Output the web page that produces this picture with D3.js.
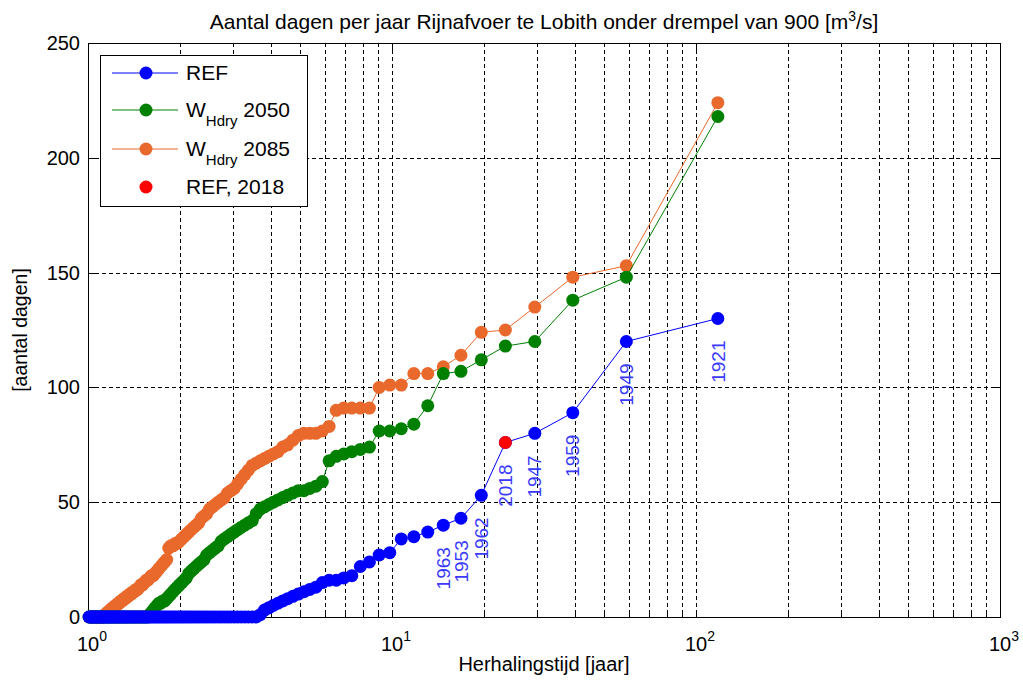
<!DOCTYPE html>
<html>
<head>
<meta charset="utf-8">
<script src="https://cdn.jsdelivr.net/npm/d3@7"></script>
<style>
  html, body { margin: 0; padding: 0; background: #fff; }
  svg { display: block; font-family: "Liberation Sans", Arial, Helvetica, sans-serif; }
</style>
</head>
<body>
<svg id="chart" width="1023" height="688"></svg>
<script>
// ---------------- data ----------------
// values sorted descending; return period T = (nYears + 1) / rank
const nYears = 117;
const refValues = [130,120,89,80,76,53,43,40,37,35,34,28,27,24,22,18,17,16,16,15,13,12,11,10,9,8,7,6,5,4,3,1]
  .concat(new Array(85).fill(0));
const w2050Values = [218,148,138,120,118,112,107,106,92,84,
  82,81,81,74,73,72,71,70,68,59,
  57,56,55,55,54,53,52,51,50,49,
  48,47,45,42,41,40,39,38,37,36,
  35,34,33,31,30,29,28,27,25,24,
  23,22,21,20,19,17,16,15,14,13,
  12,11,10,9,8,7,7,6,6,5,
  4,3,2,1].concat(new Array(43).fill(0));
const w2085Values = [224,153,148,135,125,124,114,109,106,106,
  101,101,100,91,91,91,91,90,83,81,
  80,80,80,79,77,75,74,72,71,70,
  69,68,67,66,64,62,60,58,56,55,
  54,52,51,50,49,48,47,45,44,43,
  41,40,39,38,37,36,35,34,33,32,
  32,31,31,30,25,24,23,22,21,20,
  19,18,18,17,16,16,15,14,14,13,
  12,12,11,11,10,10,9,9,8,8,
  7,7,6,6,5,5,4,4,3,3,
  2,2,1,1].concat(new Array(13).fill(0));
const ref2018Rank = [5];
const ref2018Value = [76];
const yearLabels = ["1921","1949","1959","1947","2018","1962","1953","1963"];

const titleText = "Aantal dagen per jaar Rijnafvoer te Lobith onder drempel van 900 [m";
const xLabel = "Herhalingstijd [jaar]";
const yLabel = "[aantal dagen]";
const yTicks = [0,50,100,150,200,250];
const xMajor = [1,10,100,1000];
const xExp = ["0","1","2","3"];

const colors = { ref: "#0000ff", w2050: "#008000", w2085: "#e9692c", red: "#ff0000", label: "#3a3aff" };

// ---------------- setup ----------------
const svg = d3.select("#chart");
const L = 88, R = 1000, T = 43, B = 617;
const x = d3.scaleLog().domain([1, 1000]).range([L, R]);
const y = d3.scaleLinear().domain([0, 250]).range([B, T]);
const rp = r => (nYears + 1) / r;
const toPts = vals => vals.map((v, i) => ({ t: rp(i + 1), v }));

// grid
const minor = [];
for (let e = 0; e < 3; e++) for (let k = 2; k <= 9; k++) minor.push(k * Math.pow(10, e));
const gridX = minor.concat([10, 100]);
const g = svg.append("g");
g.selectAll("line.gx").data(gridX).enter().append("line")
  .attr("x1", d => Math.round(x(d)) + 0.5).attr("x2", d => Math.round(x(d)) + 0.5)
  .attr("y1", T).attr("y2", B)
  .attr("stroke", "#000").attr("stroke-width", 1).attr("stroke-dasharray", "4,3");
g.selectAll("line.gy").data([50,100,150,200]).enter().append("line")
  .attr("y1", d => Math.round(y(d)) + 0.5).attr("y2", d => Math.round(y(d)) + 0.5)
  .attr("x1", L).attr("x2", R)
  .attr("stroke", "#000").attr("stroke-width", 1).attr("stroke-dasharray", "4,3");

// ticks (inside)
const tk = svg.append("g");
minor.forEach(d => {
  const xx = Math.round(x(d)) + 0.5;
  tk.append("line").attr("x1", xx).attr("x2", xx).attr("y1", B).attr("y2", B - 4).attr("stroke", "#000");
  tk.append("line").attr("x1", xx).attr("x2", xx).attr("y1", T).attr("y2", T + 4).attr("stroke", "#000");
});
xMajor.forEach(d => {
  const xx = Math.round(x(d)) + 0.5;
  tk.append("line").attr("x1", xx).attr("x2", xx).attr("y1", B).attr("y2", B - 7).attr("stroke", "#000");
  tk.append("line").attr("x1", xx).attr("x2", xx).attr("y1", T).attr("y2", T + 7).attr("stroke", "#000");
});
yTicks.forEach(d => {
  const yy = Math.round(y(d)) + 0.5;
  tk.append("line").attr("x1", L).attr("x2", L + 7).attr("y1", yy).attr("y2", yy).attr("stroke", "#000");
  tk.append("line").attr("x1", R).attr("x2", R - 7).attr("y1", yy).attr("y2", yy).attr("stroke", "#000");
});

// left axis labels using d3 axis
const axL = d3.axisLeft(y).tickValues(yTicks).tickSize(0).tickPadding(8);
const gl = svg.append("g").attr("transform", `translate(${L},0)`).call(axL);
gl.select(".domain").remove();
gl.selectAll("text").attr("font-size", 20).attr("font-family", "Liberation Sans, Arial, sans-serif").attr("fill", "#000");

// bottom labels 10^k
const xl = svg.append("g");
xMajor.forEach((d, i) => {
  const t = xl.append("text").attr("x", x(d) + 4).attr("y", 651).attr("text-anchor", "middle")
    .attr("font-size", 20).attr("fill", "#000");
  t.append("tspan").text("10");
  t.append("tspan").attr("dy", -10).attr("font-size", 14).text(xExp[i]);
});

// box
svg.append("rect").attr("x", L + 0.5).attr("y", T + 0.5).attr("width", R - L).attr("height", B - T)
  .attr("fill", "none").attr("stroke", "#000").attr("stroke-width", 1);

// series
const line = d3.line().x(d => x(d.t)).y(d => y(d.v));
function drawSeries(vals, color) {
  const pts = toPts(vals);
  const sg = svg.append("g");
  sg.append("path").datum(pts).attr("d", line).attr("fill", "none").attr("stroke", color).attr("stroke-width", 1);
  sg.selectAll("circle").data(pts).enter().append("circle")
    .attr("cx", d => x(d.t)).attr("cy", d => y(d.v)).attr("r", 6.5).attr("fill", color);
}
drawSeries(w2085Values, colors.w2085);
drawSeries(w2050Values, colors.w2050);
drawSeries(refValues, colors.ref);
svg.selectAll("circle.red").data(ref2018Rank.map((r, i) => ({ t: rp(r), v: ref2018Value[i] }))).enter()
  .append("circle").attr("class", "red")
  .attr("cx", d => x(d.t)).attr("cy", d => y(d.v)).attr("r", 6.5).attr("fill", colors.red);

// year labels
svg.selectAll("text.yr").data(yearLabels).enter().append("text").attr("class", "yr")
  .attr("transform", (d, i) => `translate(${x(rp(i + 1))},${y(refValues[i]) + 22}) rotate(-90)`)
  .attr("text-anchor", "end").attr("dy", "0.35em")
  .attr("font-size", 19).attr("fill", colors.label).text(d => d);

// title
const tt = svg.append("text").attr("x", (L + R) / 2).attr("y", 29).attr("text-anchor", "middle")
  .attr("font-size", 21).attr("fill", "#000");
tt.append("tspan").text(titleText);
tt.append("tspan").attr("dy", -8).attr("font-size", 14).text("3");
tt.append("tspan").attr("dy", 8).text("/s]");

// axis labels
svg.append("text").attr("x", (L + R) / 2).attr("y", 671).attr("text-anchor", "middle")
  .attr("font-size", 20).attr("fill", "#000").text(xLabel);
svg.append("text").attr("transform", `translate(27,${(T + B) / 2}) rotate(-90)`).attr("text-anchor", "middle")
  .attr("font-size", 19.5).attr("fill", "#000").text(yLabel);

// legend
const lg = svg.append("g");
lg.append("rect").attr("x", 100.5).attr("y", 55.5).attr("width", 207).attr("height", 151)
  .attr("fill", "#fff").attr("stroke", "#000").attr("stroke-width", 1);
const legItems = [
  { c: colors.ref, line: true, main: "REF", sub: null, tail: null, y: 73 },
  { c: colors.w2050, line: true, main: "W", sub: "Hdry", tail: " 2050", y: 110 },
  { c: colors.w2085, line: true, main: "W", sub: "Hdry", tail: " 2085", y: 149 },
  { c: colors.red, line: false, main: "REF, 2018", sub: null, tail: null, y: 187 }
];
legItems.forEach(it => {
  if (it.line) lg.append("line").attr("x1", 112).attr("x2", 178).attr("y1", it.y).attr("y2", it.y)
    .attr("stroke", it.c).attr("stroke-width", 1);
  lg.append("circle").attr("cx", 146).attr("cy", it.y).attr("r", 6.5).attr("fill", it.c);
  const t = lg.append("text").attr("x", 186).attr("y", it.y + 7).attr("font-size", 21).attr("fill", "#000");
  t.append("tspan").text(it.main);
  if (it.sub) {
    t.append("tspan").attr("dy", 9).attr("font-size", 15).text(it.sub);
    t.append("tspan").attr("dy", -9).text(it.tail);
  }
});
</script>
</body>
</html>
